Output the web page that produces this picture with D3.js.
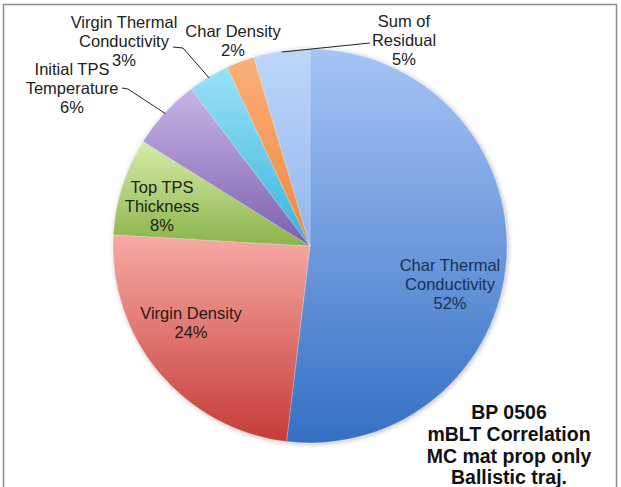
<!DOCTYPE html>
<html>
<head>
<meta charset="utf-8">
<script src="https://cdn.jsdelivr.net/npm/d3@7"></script>
<style>
html,body{margin:0;padding:0;background:#fff;}
svg{display:block;font-family:"Liberation Sans",Arial,Helvetica,sans-serif;}
</style>
</head>
<body>
<svg id="chart" width="621" height="487"></svg>
<script>
// ---- data ----
const categories = ["Char Thermal Conductivity","Virgin Density","Top TPS Thickness","Initial TPS Temperature","Virgin Thermal Conductivity","Char Density","Sum of Residual"];
const labelLines = [["Char Thermal","Conductivity"],["Virgin Density"],["Top TPS","Thickness"],["Initial TPS","Temperature"],["Virgin Thermal","Conductivity"],["Char Density"],["Sum of","Residual"]];
const values = [51.9, 24.0, 8.0, 5.8, 3.4, 2.3, 4.6];
const titleLines = ["BP 0506","mBLT Correlation","MC mat prop only","Ballistic traj."];

// ---- styles / layout ----
const colorTop = ["#a6c4f5","#f7aaa5","#d6eda8","#c8b5e6","#9ae2f7","#fbb07a","#bdd7f9"];
const colorBot = ["#3570c4","#c53c36","#8bb24c","#7c5fae","#38b4da","#ee873c","#92b6ec"];
const textColor = ["#1b2f55","#2b1616","#1a2410","#222","#222","#222","#222"];
// label block centre (relative to pie centre), leader elbow points (relative)
const labelLayout = [
  {x:140, y:38},
  {x:-119, y:76.5},
  {x:-148, y:-40},
  {x:-238, y:-158, leader:[[-182,-157],[-188,-158]]},
  {x:-186, y:-205, leader:[[-127,-198],[-137,-199]]},
  {x:-77, y:-205},
  {x:94, y:-206, leader:[[60,-203]]}
];

const W = 621, H = 487;
const cx = 310, cy = 246, R = 197;
const svg = d3.select("#chart");

// frame
svg.append("rect").attr("x",3.5).attr("y",4.5).attr("width",613).attr("height",520)
  .attr("fill","none").attr("stroke","#8c8c8c").attr("stroke-width",1.5);

const defs = svg.append("defs");
const f = defs.append("filter").attr("id","shadow").attr("x","-10%").attr("y","-10%").attr("width","120%").attr("height","120%");
f.append("feDropShadow").attr("dx",1).attr("dy",1).attr("stdDeviation",2.5).attr("flood-color","#000").attr("flood-opacity",0.28);

categories.forEach((c,i)=>{
  const g = defs.append("linearGradient").attr("id","grad"+i)
    .attr("x1",0).attr("y1",0).attr("x2",0).attr("y2",1);
  g.append("stop").attr("offset","0%").attr("stop-color",colorTop[i]);
  g.append("stop").attr("offset","100%").attr("stop-color",colorBot[i]);
});

const pie = d3.pie().sort(null).value(d=>d)(values);
const arc = d3.arc().innerRadius(0).outerRadius(R);
const edgeArc = d3.arc().innerRadius(R-1).outerRadius(R-1);

const gPie = svg.append("g").attr("transform",`translate(${cx},${cy})`);
const gSlices = gPie.append("g").attr("filter","url(#shadow)");
gSlices.selectAll("path").data(pie).join("path")
  .attr("d",arc)
  .attr("fill",(d,i)=>`url(#grad${i})`)
  .attr("stroke","rgba(255,255,255,0.35)")
  .attr("stroke-width",0.6);

const total = d3.sum(values);
const fmt = v => Math.round(v/total*100) + "%";

// leader lines
pie.forEach((d,i)=>{
  const L = labelLayout[i];
  if(!L.leader) return;
  const p0 = edgeArc.centroid(d);
  const pts = [p0, ...L.leader];
  gPie.append("path").attr("d", d3.line()(pts))
    .attr("fill","none").attr("stroke","#222").attr("stroke-width",1);
});

// labels
const lh = 19.2;
pie.forEach((d,i)=>{
  const L = labelLayout[i];
  const lines = [...labelLines[i], fmt(values[i])];
  const t = gPie.append("text")
    .attr("text-anchor","middle")
    .attr("font-size",16.5)
    .attr("fill",textColor[i]);
  const n = lines.length;
  lines.forEach((s,k)=>{
    t.append("tspan").attr("x",L.x).attr("y",L.y + (k-(n-1)/2)*lh + 5.8).text(s);
  });
});

// title block
const tt = svg.append("text").attr("text-anchor","middle").attr("font-size",19.5)
  .attr("font-weight","bold").attr("fill","#111");
titleLines.forEach((s,k)=>{
  tt.append("tspan").attr("x",509).attr("y",419 + k*21.8).text(s);
});
</script>
</body>
</html>
